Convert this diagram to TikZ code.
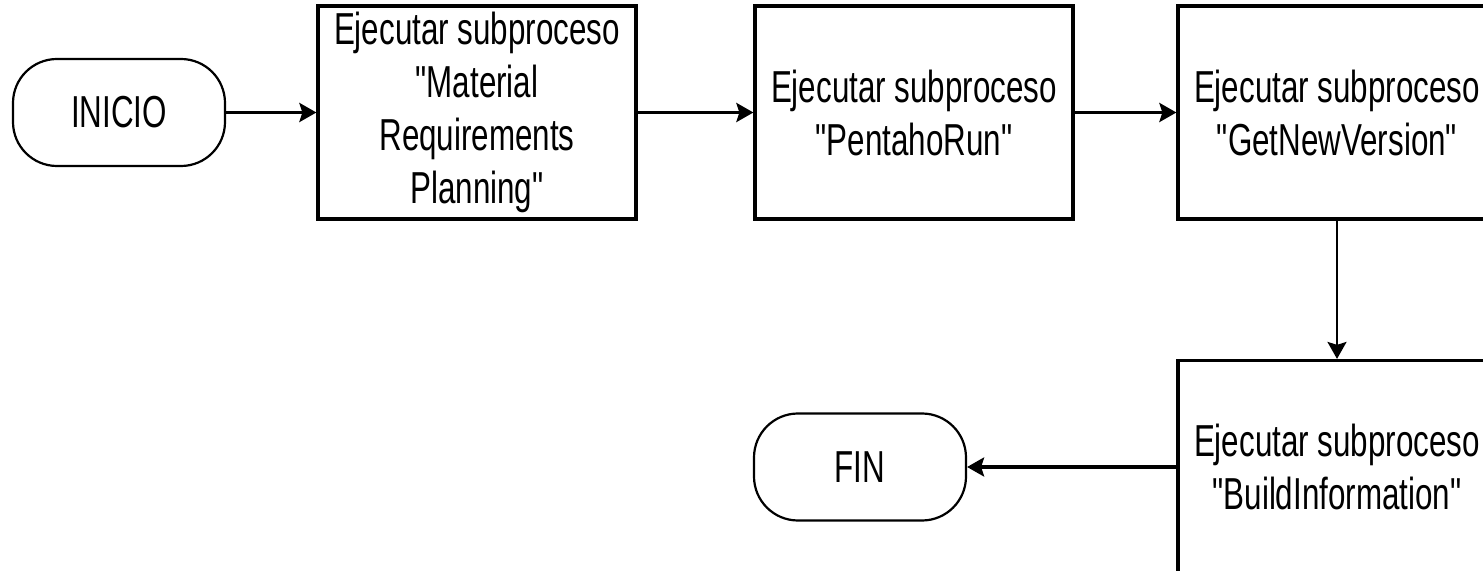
\documentclass[tikz,border=0pt]{standalone}
\usepackage{fontspec}
\setmainfont{Liberation Sans}[FakeStretch=0.7, Ligatures=TeXOff]
\usetikzlibrary{arrows.meta}

\begin{document}
\begin{tikzpicture}[x=0.5pt, y=-0.5pt,
    every node/.style={font=\fontsize{22.4pt}{26.5pt}\selectfont, align=center, inner sep=0pt},
    proceso/.style={draw, line width=1.6pt, minimum width=159pt, minimum height=106.5pt},
    terminal/.style={draw, line width=1.1pt, rounded corners=22pt, minimum width=106pt, minimum height=53.5pt},
    flecha/.style={-{Stealth[length=8.5pt, width=9.5pt, inset=1.5pt]}, line width=1.6pt}]
    \useasboundingbox (0,0) rectangle (1483,571);
    \clip (0,0) rectangle (1483,571);
    \node [terminal] (I) at (119,112.5) {INICIO};
    \node [proceso] (M) at (477,112.5) {Ejecutar subproceso\\"Material\\Requirements\\Planning"};
    \node [proceso] (P) at (914,112.5) {Ejecutar subproceso\\"PentahoRun"};
    \node [proceso] (G) at (1337,112.5) {Ejecutar subproceso\\"GetNewVersion"};
    \node [proceso] (B) at (1337,467) {Ejecutar subproceso\\"BuildInformation"};
    \node [terminal] (F) at (860,467) {FIN};
    \draw [flecha] (I) -- (M);
    \draw [flecha] (M) -- (P);
    \draw [flecha] (P) -- (G);
    \draw [flecha, line width=1.2pt] (G) -- (B);
    \draw [flecha] (B) -- (F);
\end{tikzpicture}
\end{document}
